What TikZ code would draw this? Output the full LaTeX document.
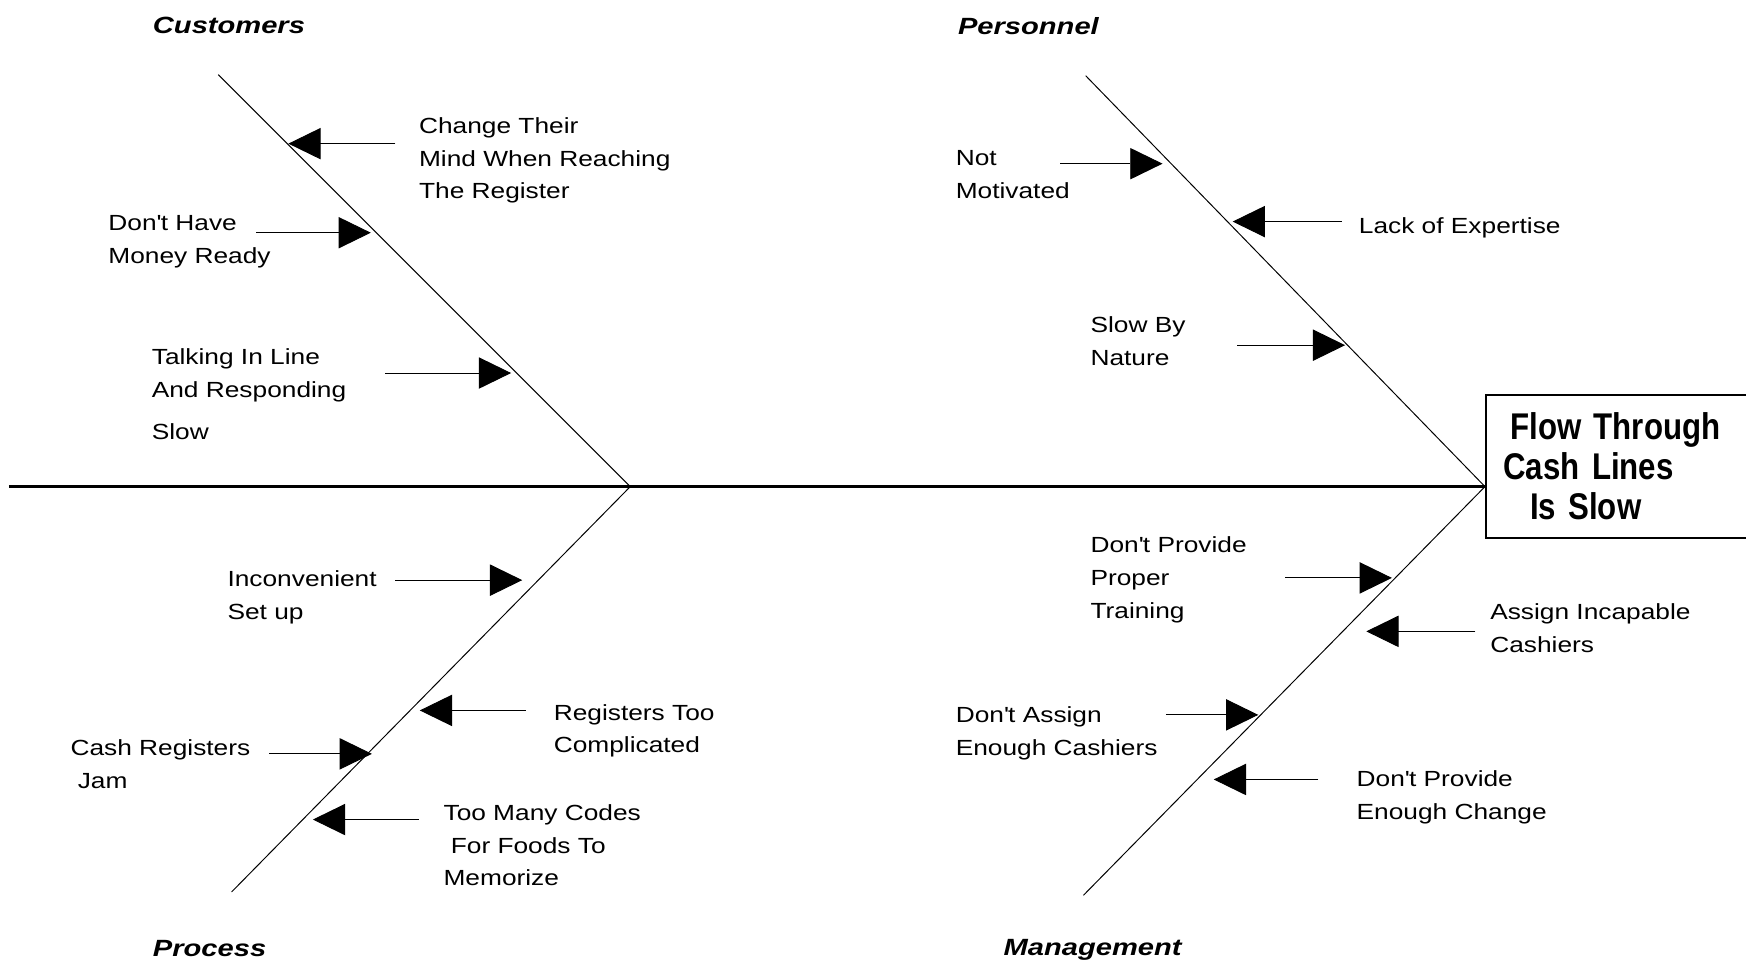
\documentclass[tikz,border=0pt]{standalone}
\usepackage{fontspec}
\setmainfont{Liberation Sans}
\newfontfamily\causefont[FakeStretch=1.2]{Liberation Sans}
\newfontfamily\catfont[FakeStretch=1.24]{Liberation Sans}
\newfontfamily\effectfont[FakeStretch=0.84]{Liberation Sans}
\usetikzlibrary{arrows.meta}

\begin{document}
\begin{tikzpicture}[x=0.02cm, y=-0.02cm,
    cause/.style={anchor=north west, inner sep=0pt, align=left, font=\causefont\fontsize{11.2}{16.8}\selectfont},
    category/.style={anchor=north west, inner sep=0pt, font=\catfont\bfseries\itshape\fontsize{12}{14}\selectfont},
    effectbox/.style={draw, line width=0.8pt, minimum width=5.31cm, minimum height=2.576cm, inner xsep=8.8pt, text width=133pt, align=left, font=\effectfont\bfseries\fontsize{19}{20.4}\selectfont},
    bone/.style={line width=0.5pt},
    spine/.style={line width=1.8pt},
    causearrow/.style={line width=0.5pt, -{Triangle[length=16.5pt, width=16pt]}}]
\useasboundingbox (0,0) rectangle (1568,864);

% effect and spine
\node[effectbox] (effect) at (1467,419) {\hspace*{3.5pt}Flow Through\\Cash Lines\\\hspace*{13.6pt}Is Slow};
\coordinate (tail) at (8,437);
\coordinate (jointA) at (566,437);
\coordinate (jointB) at (tail -| effect.west);
\draw[spine] (tail) -- (jointB);

% bones
\draw[bone] (196,67) coordinate (custend) -- (jointA);
\draw[bone] (208,801) coordinate (procend) -- (jointA);
\draw[bone] (975,68) coordinate (persend) -- (jointB);
\draw[bone] (973,804) coordinate (mgmtend) -- (jointB);

% categories
\node[category] (customers) at (137,15) {Customers};
\node[category] (personnel) at (860,15) {Personnel};
\node[category] (process) at (137,844) {Process};
\node[category] (management) at (901,843) {Management};

% customers
\node[cause] (c1) at (376,105) {Change Their\\Mind When Reaching\\The Register};
\node[cause] (c2) at (97,193) {Don\textquotesingle t Have\\Money Ready};
\node[cause] (c3) at (136,313) {Talking In Line\\And Responding\\[4.5pt]Slow};
\draw[causearrow] (355,129) coordinate (c1t) -- (259,129) coordinate (c1h);
\draw[causearrow] (230,209) coordinate (c2t) -- (333,209) coordinate (c2h);
\draw[causearrow] (346,335) coordinate (c3t) -- (459,335) coordinate (c3h);

% personnel
\node[cause] (p1) at (858,135) {Not\\Motivated};
\node[cause] (p2) at (1220,195) {Lack of Expertise};
\node[cause] (p3) at (979,284) {Slow By\\Nature};
\draw[causearrow] (952,147) coordinate (p1t) -- (1044,147) coordinate (p1h);
\draw[causearrow] (1205,199) coordinate (p2t) -- (1107,199) coordinate (p2h);
\draw[causearrow] (1111,310) coordinate (p3t) -- (1208,310) coordinate (p3h);

% process
\node[cause] (r1) at (204,512) {Inconvenient\\Set up};
\node[cause] (r2) at (497,632) {Registers Too\\Complicated};
\node[cause] (r3) at (63,664) {Cash Registers\\\hspace*{3.7pt}Jam};
\node[cause] (r4) at (398,722) {Too Many Codes\\\hspace*{3.7pt}For Foods To\\Memorize};
\draw[causearrow] (355,521) coordinate (r1t) -- (469,521) coordinate (r1h);
\draw[causearrow] (472,638) coordinate (r2t) -- (377,638) coordinate (r2h);
\draw[causearrow] (242,677) coordinate (r3t) -- (334,677) coordinate (r3h);
\draw[causearrow] (376,736) coordinate (r4t) -- (281,736) coordinate (r4h);

% management
\node[cause] (m1) at (979,482) {Don\textquotesingle t Provide\\Proper\\Training};
\node[cause] (m2) at (1338,542) {Assign Incapable\\Cashiers};
\node[cause] (m3) at (858,634) {Don\textquotesingle t Assign\\Enough Cashiers};
\node[cause] (m4) at (1218,692) {Don\textquotesingle t Provide\\Enough Change};
\draw[causearrow] (1154,519) coordinate (m1t) -- (1250,519) coordinate (m1h);
\draw[causearrow] (1325,567) coordinate (m2t) -- (1227,567) coordinate (m2h);
\draw[causearrow] (1047,642) coordinate (m3t) -- (1130,642) coordinate (m3h);
\draw[causearrow] (1184,700) coordinate (m4t) -- (1090,700) coordinate (m4h);
\end{tikzpicture}
\end{document}
